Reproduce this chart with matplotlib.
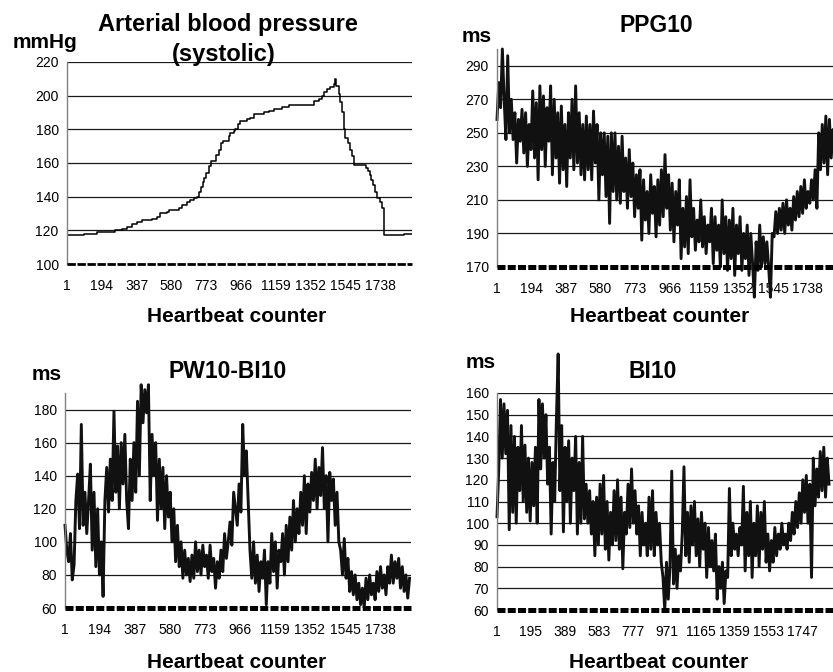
import matplotlib
matplotlib.use("Agg")
import matplotlib.pyplot as plt
import numpy as np

plt.rcParams['font.family'] = ['Liberation Sans', 'DejaVu Sans']

W, H = 833, 672

# arterial blood pressure: step starts (beat) and level (mmHg)
abp_beat = [1, 93, 167, 269, 306, 334, 361, 389, 417, 472, 500, 519, 556, 565,
            620, 639, 666, 685, 703, 722, 735, 746, 755, 763, 774, 787, 800,
            829, 842, 855, 866, 898, 907, 925, 934, 947, 962, 999, 1017, 1036,
            1091, 1119, 1147, 1193, 1230, 1369, 1397, 1415, 1424, 1443, 1461,
            1480, 1489, 1493, 1511, 1517, 1526, 1535, 1544, 1559, 1572, 1581,
            1591, 1661, 1668, 1679, 1687, 1698, 1711, 1720, 1739, 1748, 1757,
            1761, 1868, 1914]
abp_val = [117, 118, 119, 120, 121, 122, 124, 125, 126, 127, 128, 130, 131, 132,
           133, 135, 137, 138, 139, 140, 143, 146, 149, 151, 154, 158, 161,
           165, 168, 172, 173, 176, 178, 179, 180, 183, 185, 186, 187, 189,
           190, 191, 192, 193, 194.5, 197, 198, 200, 202, 204, 205,
           207, 210, 206, 201, 196, 190, 180, 175, 172, 168, 164,
           159, 157, 155, 153, 150, 147, 143, 139, 137, 133, 132,
           117, 118, 118]

# noisy series, one value every 10 beats (beat 1, 11, 21, ...)
step = 10
ppg10 = [258, 280, 265, 300, 270, 246, 296, 250, 270, 246,
         262, 232, 258, 245, 264, 238, 262, 230, 255, 240,
         275, 235, 268, 222, 278, 240, 272, 230, 265, 245,
         278, 225, 270, 235, 262, 220, 266, 228, 255, 218,
         262, 235, 270, 228, 278, 232, 262, 225, 255, 222,
         260, 228, 255, 222, 263, 232, 255, 210, 250, 225,
         250, 212, 248, 196, 250, 215, 250, 210, 242, 208,
         248, 215, 235, 205, 240, 212, 232, 200, 225, 205,
         228, 186, 222, 198, 215, 190, 225, 202, 218, 188,
         222, 195, 228, 200, 237, 205, 225, 192, 220, 185,
         215, 195, 222, 175, 205, 182, 212, 178, 222, 188,
         205, 180, 198, 185, 210, 182, 200, 178, 195, 185,
         205, 172, 200, 180, 195, 170, 210, 178, 200, 168,
         198, 175, 205, 165, 195, 178, 200, 168, 190, 175,
         195, 165, 190, 172, 152, 185, 168, 195, 170, 188,
         172, 185, 170, 152, 190, 188, 203, 190, 205, 192,
         208, 190, 210, 195, 205, 192, 212, 198, 215, 200,
         218, 202, 222, 205, 215, 208, 222, 210, 228, 205,
         250, 228, 255, 232, 260, 225, 258, 235, 252, 230,
         250]
pw10_bi10 = [110, 95, 88, 105, 77, 86, 125, 141, 108, 171,
             110, 130, 105, 125, 147, 95, 130, 85, 120, 80,
             100, 67, 125, 145, 118, 150, 125, 179, 130, 158,
             120, 160, 135, 165, 125, 108, 150, 125, 160, 130,
             185, 140, 195, 172, 192, 178, 195, 125, 165, 140,
             160, 113, 150, 120, 145, 108, 140, 115, 130, 100,
             120, 88, 110, 85, 100, 78, 95, 80, 90, 76,
             92, 78, 100, 82, 95, 80, 98, 85, 92, 78,
             98, 82, 90, 72, 88, 78, 95, 82, 105, 90,
             100, 112, 98, 130, 120, 110, 135, 118, 171, 140,
             155, 125, 95, 78, 100, 75, 92, 70, 88, 78,
             95, 62, 88, 75, 105, 82, 100, 72, 95, 88,
             105, 80, 110, 88, 115, 95, 125, 100, 120, 105,
             130, 110, 140, 105, 135, 118, 142, 125, 150, 120,
             145, 128, 157, 120, 140, 100, 142, 125, 138, 110,
             130, 100, 95, 80, 102, 78, 90, 70, 82, 68,
             80, 65, 75, 62, 72, 60, 78, 65, 80, 68,
             75, 65, 82, 70, 85, 72, 80, 68, 85, 75,
             92, 75, 88, 78, 90, 72, 85, 70, 80, 66,
             78]
bi10 = [103, 125, 157, 130, 155, 132, 152, 97, 145, 105,
        140, 100, 135, 115, 145, 110, 136, 105, 130, 101,
        128, 108, 135, 100, 157, 125, 155, 130, 150, 118,
        135, 95, 128, 110, 148, 178, 115, 145, 96, 135,
        110, 138, 100, 130, 115, 140, 95, 128, 100, 140,
        102, 118, 100, 115, 95, 110, 85, 112, 90, 118,
        95, 122, 88, 110, 83, 105, 90, 115, 92, 120,
        88, 112, 79, 105, 95, 118, 98, 125, 100, 115,
        95, 108, 85, 105, 90, 100, 85, 112, 88, 115,
        85, 105, 90, 100, 82, 75, 60, 82, 65, 80,
        124, 72, 88, 70, 85, 78, 95, 126, 85, 105,
        82, 108, 90, 110, 85, 102, 80, 105, 88, 100,
        75, 98, 80, 92, 78, 95, 65, 80, 70, 82,
        63, 78, 75, 116, 85, 100, 88, 95, 85, 98,
        90, 117, 78, 105, 85, 110, 75, 100, 85, 108,
        80, 105, 88, 110, 82, 95, 78, 92, 82, 98,
        85, 95, 88, 100, 90, 95, 88, 100, 92, 105,
        95, 110, 98, 114, 100, 120, 105, 122, 100, 118,
        75, 130, 108, 125, 112, 133, 115, 135, 112, 130,
        118]

ticks_a = [1, 194, 387, 580, 773, 966, 1159, 1352, 1545, 1738]
ticks_b = [1, 195, 389, 583, 777, 971, 1165, 1359, 1553, 1747]


def box(l, t, r, b):
    return [l / W, 1 - b / H, (r - l) / W, (b - t) / H]


def style(ax, xmax, ylim, yticks, xticks, bw, dash):
    ax.set_xlim(1, xmax)
    ax.set_ylim(*ylim)
    ax.set_yticks(yticks)
    ax.set_xticks(xticks)
    ax.set_xticklabels([str(t) for t in xticks])
    for s in ['top', 'right']:
        ax.spines[s].set_visible(False)
    ax.spines['left'].set_color('#808080')
    ax.spines['left'].set_linewidth(1.0)
    bot = ax.spines['bottom']
    bot.set_color('black')
    bot.set_linewidth(bw)
    bot.set_linestyle(dash)
    bot.set_capstyle('butt')
    bot.set_zorder(3)
    ax.yaxis.grid(True, color='#1a1a1a', linewidth=0.9)
    ax.set_axisbelow(True)
    ax.tick_params(axis='y', length=0, pad=6, labelsize=10)
    ax.tick_params(axis='x', length=0, pad=11, labelsize=10)


def txt(fig, x, y, s, size=14):
    fig.text(x / W, 1 - y / H, s, ha='center', va='center',
             fontsize=size, fontweight='bold')


fig = plt.figure(figsize=(W / 100, H / 100), dpi=100)

# top left: arterial blood pressure
ax1 = fig.add_axes(box(67, 62, 412, 264))
ax1.plot(abp_beat, abp_val, drawstyle='steps-post', color='black', lw=1.1)
style(ax1, 1914, (100, 220), range(100, 221, 20), ticks_a, 2.0, (0, (3.0, 0.6)))

# top right: PPG10
ax2 = fig.add_axes(box(497, 49, 838, 267))
x2 = 1 + step * np.arange(len(ppg10))
ax2.plot(x2, ppg10, color='#111111', lw=2.1, clip_on=False)
style(ax2, 1909, (170, 300), range(170, 291, 20), ticks_a, 3.6, (0, (1.6, 0.45)))

# bottom left: PW10-BI10
ax3 = fig.add_axes(box(65, 393, 411, 608))
x3 = 1 + step * np.arange(len(pw10_bi10))
ax3.plot(x3, pw10_bi10, color='#111111', lw=2.1, clip_on=False)
style(ax3, 1909, (60, 190), range(60, 181, 20), ticks_a, 3.6, (0, (1.6, 0.45)))

# bottom right: BI10
ax4 = fig.add_axes(box(497, 393, 836, 610))
x4 = 1 + step * np.arange(len(bi10))
ax4.plot(x4, bi10, color='#111111', lw=2.1, clip_on=False)
style(ax4, 1941, (60, 160), range(60, 161, 10), ticks_b, 3.6, (0, (1.6, 0.45)))

txt(fig, 228, 24, 'Arterial blood pressure', 17)
txt(fig, 224, 54, '(systolic)', 17)
txt(fig, 45, 43, 'mmHg', 15)
txt(fig, 656, 26, 'PPG10', 16.5)
txt(fig, 477, 36, 'ms', 15)
txt(fig, 228, 371, 'PW10-BI10', 16.5)
txt(fig, 47, 375, 'ms', 15)
txt(fig, 653, 371, 'BI10', 16.5)
txt(fig, 481, 363, 'ms', 15)
for cx, cy in [(237, 317), (660, 317), (237, 662), (659, 662)]:
    txt(fig, cx, cy, 'Heartbeat counter', 15)

fig.savefig('out.png', dpi=100)
